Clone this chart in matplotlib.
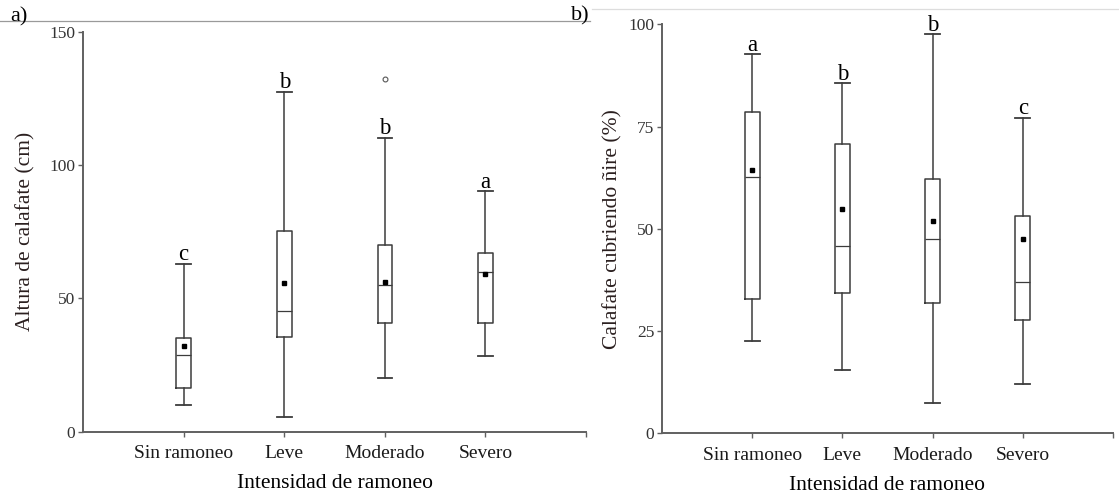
import matplotlib
matplotlib.use('Agg')
import matplotlib.pyplot as plt
from matplotlib.lines import Line2D

plt.rcParams['font.family'] = ['Liberation Serif', 'DejaVu Serif']

# categories shared by both panels
categorias = ['Sin ramoneo', 'Leve', 'Moderado', 'Severo']

# a) altura de calafate (cm)
alt_whislo = [10, 5.4, 20, 28.3]
alt_q1 = [16.5, 35.5, 40.6, 40.6]
alt_med = [28.6, 45.1, 55.2, 59.8]
alt_q3 = [35.2, 75.1, 69.9, 67.2]
alt_whishi = [63, 127.5, 110.3, 90.2]
alt_mean = [32.3, 55.7, 56.2, 59.2]
alt_fliers = [[], [], [132.2], []]
alt_letras = ['c', 'b', 'b', 'a']

# b) calafate cubriendo nire (%)
cob_whislo = [22.5, 15.6, 7.5, 12.0]
cob_q1 = [32.8, 34.3, 31.9, 27.6]
cob_med = [62.6, 45.7, 47.4, 36.9]
cob_q3 = [78.6, 70.7, 62.1, 53.2]
cob_whishi = [92.7, 85.6, 97.6, 77.1]
cob_mean = [64.4, 54.8, 52.0, 47.5]
cob_fliers = [[], [], [], []]
cob_letras = ['a', 'b', 'b', 'c']

LINE = '#3c3c3c'
SPINE = '#606060'


def build_stats(lo, q1, med, q3, hi, mean, fl):
    return [dict(whislo=lo[i], q1=q1[i], med=med[i], q3=q3[i], whishi=hi[i],
                 mean=mean[i], fliers=fl[i]) for i in range(len(lo))]


def panel(ax, stats, letras, ylim, yticks, ylabel, width, ylab_x):
    ax.bxp(stats, positions=[1, 2, 3, 4], widths=width, showmeans=True,
           showfliers=True, capwidths=width,
           boxprops=dict(color=LINE, linewidth=1.1),
           whiskerprops=dict(color=LINE, linewidth=1.1),
           capprops=dict(color=LINE, linewidth=1.3),
           medianprops=dict(color=LINE, linewidth=0.9),
           meanprops=dict(marker='s', markerfacecolor='black',
                          markeredgecolor='black', markersize=3.5),
           flierprops=dict(marker='o', markerfacecolor='white',
                           markeredgecolor='#555555', markersize=3.5,
                           markeredgewidth=0.8))
    for i, s in enumerate(stats):
        ax.annotate(letras[i], xy=(i + 1, s['whishi']), xytext=(0, 2.5),
                    textcoords='offset points', ha='center', va='baseline',
                    fontsize=16.5, color='black')
    ax.set_xlim(0, 5)
    ax.set_ylim(*ylim)
    ax.set_xticks([1, 2, 3, 4, 5])
    ax.set_xticklabels(categorias + [''], fontsize=14, color='#1a1a1a')
    ax.set_yticks(yticks)
    ax.set_yticklabels([str(t) for t in yticks], fontsize=12.5, color='#333333')
    ax.tick_params(axis='both', direction='out', length=3.5, width=1.0,
                   color=SPINE, pad=2)
    ax.tick_params(axis='x', pad=6)
    for side in ['top', 'right']:
        ax.spines[side].set_visible(False)
    for side in ['left', 'bottom']:
        ax.spines[side].set_color(SPINE)
        ax.spines[side].set_linewidth(1.4)
    ax.set_xlabel('Intensidad de ramoneo', fontsize=15.5, labelpad=9)
    ax.set_ylabel(ylabel, fontsize=15.5, color='#2a1f1f')
    ax.yaxis.set_label_coords(ylab_x, 0.5)


fig = plt.figure(figsize=(11.19, 4.96), dpi=100)
ax1 = fig.add_axes([0.0742, 0.1296, 0.4495, 0.8065])
ax2 = fig.add_axes([0.5916, 0.1264, 0.4030, 0.8246])

panel(ax1, build_stats(alt_whislo, alt_q1, alt_med, alt_q3, alt_whishi, alt_mean, alt_fliers),
      alt_letras, (0, 150), [0, 50, 100, 150], 'Altura de calafate (cm)', 0.145, -0.094)
panel(ax2, build_stats(cob_whislo, cob_q1, cob_med, cob_q3, cob_whishi, cob_mean, cob_fliers),
      cob_letras, (0, 100), [0, 25, 50, 75, 100], 'Calafate cubriendo ñire (%)', 0.17, -0.087)

# panel frame remnants at the top
W, H = 1119, 496
fig.add_artist(Line2D([0, 590 / W], [1 - 20.7 / H, 1 - 20.7 / H], color='#9a9a9a', lw=0.9))
fig.add_artist(Line2D([592 / W, 1], [1 - 9.3 / H, 1 - 9.3 / H], color='#dddddd', lw=0.9))

fig.text(10 / W, 1 - 21 / H, 'a)', fontsize=16, va='baseline', ha='left')
fig.text(571 / W, 1 - 20 / H, 'b)', fontsize=16, va='baseline', ha='left')

fig.savefig('out.png', dpi=100)
